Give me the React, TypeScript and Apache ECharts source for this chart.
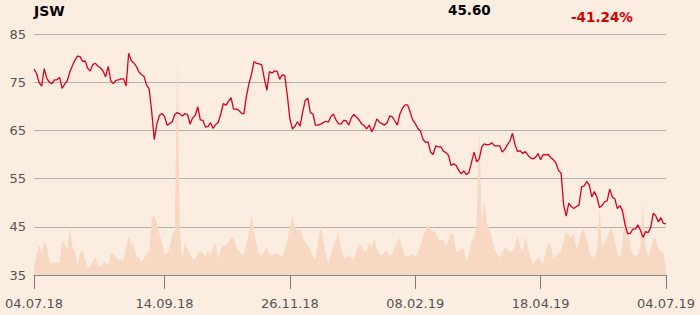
import React, { useEffect, useRef } from "react";
import * as echarts from "echarts";

const priceValues = [
  77.7, 76.8, 74.9, 74.2, 77.8, 75.8, 75.0, 74.7, 75.5, 75.5,
  76.0, 73.7, 74.6, 75.3, 77.1, 78.4, 79.6, 80.4, 80.3, 79.3,
  79.4, 77.9, 77.3, 78.7, 78.9, 78.3, 78.0, 77.3, 76.1, 78.3,
  75.3, 74.7, 75.4, 75.5, 75.7, 75.7, 74.2, 81.0, 79.5, 79.0,
  78.3, 77.1, 76.6, 76.2, 74.4, 73.6, 68.9, 63.1, 66.3, 68.1,
  68.5, 67.9, 66.1, 66.4, 66.8, 68.3, 68.7, 68.4, 68.0, 68.5,
  68.3, 66.3, 67.6, 68.1, 69.9, 67.2, 67.1, 65.7, 65.8, 66.6,
  65.4, 66.2, 66.7, 68.4, 70.6, 70.2, 71.0, 71.8, 69.4, 69.4,
  69.2, 68.6, 68.4, 72.0, 74.7, 76.6, 79.3, 78.9, 78.8, 78.6,
  75.8, 73.3, 77.2, 76.9, 77.3, 77.3, 75.6, 76.5, 76.4, 72.3,
  67.4, 65.3, 65.9, 66.8, 65.9, 68.8, 71.2, 71.7, 68.7, 68.4,
  66.1, 66.1, 66.3, 66.6, 66.9, 66.7, 67.8, 68.4, 67.2, 66.4,
  66.3, 67.1, 67.0, 66.1, 67.6, 68.3, 67.8, 67.2, 66.4, 66.0,
  65.3, 66.1, 64.7, 65.8, 67.4, 66.7, 66.4, 66.1, 66.6, 68.0,
  67.8, 67.0, 66.1, 68.4, 69.6, 70.3, 70.3, 68.8, 67.2, 66.4,
  65.4, 64.9, 63.2, 62.5, 62.6, 60.5, 60.0, 61.8, 61.6, 61.6,
  60.7, 60.4, 59.8, 57.7, 58.1, 57.7, 56.7, 56.0, 56.6, 55.8,
  56.3, 58.4, 60.5, 58.5, 59.1, 61.6, 62.2, 62.0, 62.1, 62.4,
  61.8, 61.8, 61.8, 60.5, 61.1, 62.0, 62.8, 64.4, 62.0, 60.6,
  60.8, 60.2, 60.6, 59.9, 59.3, 59.1, 59.4, 60.2, 58.9, 60.0,
  59.9, 60.0, 59.3, 58.9, 58.2, 56.7, 56.1, 49.5, 47.2, 49.9,
  49.2, 48.8, 49.2, 49.5, 53.3, 53.5, 54.4, 53.7, 51.2, 52.3,
  51.2, 49.0, 49.4, 50.2, 50.4, 52.8, 51.2, 50.8, 48.8, 49.4,
  48.3, 45.4, 43.6, 43.6, 44.5, 44.5, 45.4, 44.3, 42.8, 44.0,
  43.8, 44.8, 47.8, 47.3, 46.0, 46.9, 45.7, 45.6,
];

const volumeValues = [
  1.7, 4.3, 6.3, 4.6, 7.0, 5.8, 3.0, 2.4, 2.5, 2.6,
  2.5, 7.2, 6.4, 5.3, 10.0, 5.8, 4.8, 2.2, 4.5, 5.4,
  3.0, 1.6, 1.6, 2.8, 3.8, 2.0, 1.6, 2.5, 2.8, 1.8,
  4.4, 4.5, 3.8, 3.1, 3.2, 3.1, 6.0, 8.0, 6.3, 6.3,
  3.8, 3.8, 2.7, 3.4, 4.5, 5.0, 11.5, 12.4, 10.8, 8.5,
  6.8, 4.3, 4.5, 5.6, 8.3, 9.2, 45.2, 9.0, 3.5, 6.9,
  5.2, 4.2, 3.5, 3.2, 4.6, 5.0, 4.5, 3.9, 5.2, 3.9,
  6.0, 6.6, 3.4, 5.3, 6.0, 6.3, 6.8, 7.8, 8.0, 5.5,
  5.0, 4.4, 4.2, 6.5, 8.9, 12.6, 8.8, 6.3, 4.3, 4.0,
  4.8, 6.0, 4.2, 4.1, 4.3, 4.4, 4.1, 3.8, 5.0, 7.0,
  10.0, 12.2, 10.0, 9.0, 9.6, 7.7, 6.8, 6.0, 5.1, 4.0,
  3.3, 7.0, 10.5, 7.0, 4.5, 2.2, 4.4, 6.0, 7.2, 8.8,
  5.8, 3.6, 3.5, 4.3, 3.5, 3.2, 4.8, 6.4, 6.2, 4.9,
  4.9, 6.8, 5.6, 7.6, 5.5, 4.3, 4.2, 4.7, 5.0, 3.9,
  4.3, 5.7, 6.8, 7.8, 5.3, 4.0, 3.8, 4.2, 4.3, 3.9,
  4.5, 6.0, 8.0, 9.3, 10.5, 9.6, 9.1, 8.7, 7.3, 7.3,
  7.2, 6.0, 7.2, 8.7, 8.4, 5.0, 4.9, 5.4, 5.6, 2.6,
  4.5, 7.2, 7.5, 11.0, 31.3, 10.0, 15.5, 10.5, 9.7, 7.5,
  5.4, 4.4, 3.6, 4.6, 5.8, 5.3, 4.8, 5.0, 6.0, 8.0,
  6.0, 5.0, 8.0, 5.8, 3.8, 2.2, 2.9, 3.6, 3.0, 2.2,
  5.0, 6.7, 6.0, 3.5, 4.0, 4.5, 5.0, 7.0, 9.0, 8.2,
  7.9, 8.6, 5.3, 7.0, 8.8, 9.5, 7.5, 5.2, 3.6, 3.8,
  4.8, 14.2, 5.9, 6.6, 7.9, 9.2, 9.8, 7.0, 4.5, 3.7,
  6.0, 14.2, 9.8, 5.8, 4.2, 3.9, 4.2, 6.0, 15.2, 5.7,
  3.9, 5.5, 7.5, 7.6, 5.5, 4.9, 4.6, 1.7,
];

const tickIndices = [0, 51, 100, 149, 198, 247];
const tickLabels = ["04.07.18", "14.09.18", "26.11.18", "08.02.19", "18.04.19", "04.07.19"];

const titleText = "JSW";
const lastPrice = "45.60";
const changeText = "-41.24%";

const categories = priceValues.map((_, i) => String(i));

const FONT = "DejaVu Sans";

export default function App() {
  const ref = useRef<HTMLDivElement>(null);

  useEffect(() => {
    if (!ref.current) return;
    const chart = echarts.init(ref.current, undefined, { renderer: "svg" });
    const isTick = (idx: number) => tickIndices.indexOf(idx) >= 0;
    chart.setOption({
      animation: false,
      backgroundColor: "#fcede1",
      grid: { left: 34, right: 34, top: 34, bottom: 40, containLabel: false },
      graphic: [
        {
          type: "text",
          x: 34,
          y: 11,
          style: {
            text: titleText,
            fontFamily: FONT,
            fontSize: 14,
            fontWeight: "bold",
            fill: "#000000",
            verticalAlign: "middle",
          },
        },
        {
          type: "text",
          x: 448,
          y: 10,
          style: {
            text: lastPrice,
            fontFamily: FONT,
            fontSize: 13.5,
            fontWeight: "bold",
            fill: "#000000",
            verticalAlign: "middle",
          },
        },
        {
          type: "text",
          x: 571,
          y: 17,
          style: {
            text: changeText,
            fontFamily: FONT,
            fontSize: 13.5,
            fontWeight: "bold",
            fill: "#d40000",
            verticalAlign: "middle",
          },
        },
      ],
      xAxis: {
        type: "category",
        data: categories,
        boundaryGap: false,
        axisLine: { show: true, lineStyle: { color: "#8f8a86", width: 1 } },
        axisTick: {
          show: true,
          length: 14,
          interval: (idx: number) => isTick(idx),
          lineStyle: { color: "#7f7a76" },
        },
        axisLabel: {
          interval: (idx: number) => isTick(idx),
          formatter: (_v: string, idx: number) => {
            const k = tickIndices.indexOf(idx);
            return k >= 0 ? tickLabels[k] : "";
          },
          color: "#555555",
          fontFamily: FONT,
          fontSize: 13,
          margin: 22,
          showMinLabel: true,
          showMaxLabel: true,
        },
        splitLine: { show: false },
      },
      yAxis: [
        {
          type: "value",
          min: 35,
          max: 85,
          interval: 10,
          axisLine: { show: false },
          axisTick: { show: false },
          axisLabel: {
            color: "#555555",
            fontFamily: FONT,
            fontSize: 13,
            margin: 8,
          },
          splitLine: { show: true, lineStyle: { color: "#b5b0ab", width: 1 } },
        },
        {
          type: "value",
          min: 0,
          max: 50,
          show: false,
          splitLine: { show: false },
        },
      ],
      series: [
        {
          type: "line",
          name: "Volume",
          yAxisIndex: 1,
          data: volumeValues,
          symbol: "none",
          lineStyle: { width: 0 },
          areaStyle: { color: "#f7d8c2", opacity: 1 },
          silent: true,
          z: 1,
        },
        {
          type: "line",
          name: "Price",
          yAxisIndex: 0,
          data: priceValues,
          symbol: "none",
          lineStyle: { color: "#d7001d", width: 1.3 },
          z: 3,
        },
      ],
    });
    return () => chart.dispose();
  }, []);

  return (
    <div
      ref={ref}
      style={{ position: "fixed", left: 0, top: 0, width: 700, height: 315, background: "#fcede1" }}
    />
  );
}
